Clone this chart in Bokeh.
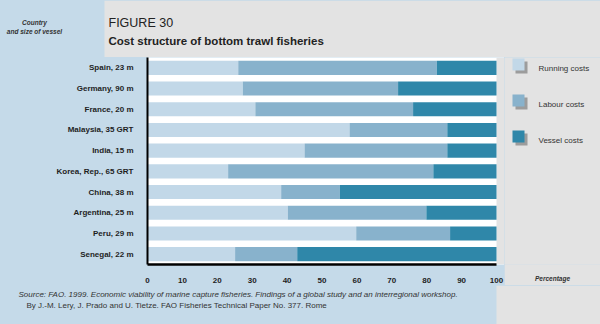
from bokeh.plotting import figure
from bokeh.layouts import column, row
from bokeh.models import FactorRange, Range1d, FixedTicker, BoxAnnotation, ColumnDataSource
from bokeh.core.properties import value
from bokeh.embed import file_html
from bokeh.resources import INLINE

countries = ["Spain, 23 m", "Germany, 90 m", "France, 20 m", "Malaysia, 35 GRT", "India, 15 m",
             "Korea, Rep., 65 GRT", "China, 38 m", "Argentina, 25 m", "Peru, 29 m", "Senegal, 22 m"]
running = [26.0, 27.3, 30.9, 57.9, 45.0, 23.1, 38.3, 40.2, 59.8, 25.1]
labour = [56.9, 44.5, 45.2, 28.0, 40.9, 58.8, 16.8, 39.7, 26.9, 17.8]
vessel = [17.1, 28.2, 23.9, 14.1, 14.1, 18.1, 44.9, 20.1, 13.3, 57.1]
series = ["Running costs", "Labour costs", "Vessel costs"]
ticks = [0, 10, 20, 30, 40, 50, 60, 70, 80, 90, 100]

BLUE_BG = "#c5dae9"
GREY_BG = "#e3e3e3"
colors = ["#c2d8e8", "#88b2cc", "#2f87a9"]
TXT = "#1e1e1e"
SOFT = "#333333"
FONT = value("Liberation Sans")

W, H = 600, 324
TOP_H = 57           # title band height
FL, FR, FB = 147, 496, 264   # chart frame left / 100% position / bottom (canvas px)
MW = 504             # width of chart panel
MH = 228             # height of chart panel
RW = W - MW
FH = H - TOP_H - MH
FOOT_Y = TOP_H + MH
BOT_BORDER = MH - (FB - TOP_H)


def panel(w, h, x0, y0, bg):
    f = figure(width=w, height=h, x_range=Range1d(x0, x0 + w), y_range=Range1d(y0 + h, y0),
               output_backend="svg", toolbar_location=None, title=None, min_border=0,
               x_axis_type=None, y_axis_type=None, background_fill_color=bg, border_fill_color=bg,
               outline_line_color=None)
    f.xgrid.visible = False
    f.ygrid.visible = False
    return f


def txt(f, x, y, s, size="8px", style="normal", color=TXT, align="left"):
    f.text(x=[x], y=[y], text=[s], text_font=FONT, text_font_size=size, text_font_style=style,
           text_color=color, text_align=align, text_baseline="middle")


# ---- title band ----
top = panel(W, TOP_H, 0, 0, BLUE_BG)
top.quad(left=[104], right=[W], top=[0], bottom=[TOP_H], fill_color=GREY_BG, line_color=None)
txt(top, 34, 22, "Country", size="6.5px", style="bold italic", color=SOFT, align="center")
txt(top, 34, 30.5, "and size of vessel", size="6.5px", style="bold italic", color=SOFT, align="center")
txt(top, 108, 22, "FIGURE 30", size="12.5px", color="#222222")
txt(top, 108, 40, "Cost structure of bottom trawl fisheries", size="11.5px", style="bold", color="#222222")

# ---- chart ----
xmax = 100 * (MW - FL) / (FR - FL)
src = ColumnDataSource(dict(country=countries, **{series[0]: running, series[1]: labour, series[2]: vessel}))
p = figure(width=MW, height=MH, y_range=FactorRange(*reversed(countries)), x_range=Range1d(0, xmax),
           output_backend="svg", toolbar_location=None, title=None,
           min_border_left=FL, min_border_right=0, min_border_top=0, min_border_bottom=BOT_BORDER,
           background_fill_color="white", border_fill_color=BLUE_BG, outline_line_color=None)
p.add_layout(BoxAnnotation(left=100, fill_color=GREY_BG, fill_alpha=1, line_color=None, level="underlay"))
p.hbar_stack(series, y="country", height=0.68, color=colors, line_color=None, source=src)
p.xgrid.visible = False
p.ygrid.visible = False

xa = p.xaxis[0]
xa.ticker = FixedTicker(ticks=ticks)
xa.bounds = (0, 100)
xa.axis_line_color = "black"
xa.axis_line_width = 2.5
xa.major_tick_line_color = None
xa.minor_tick_line_color = None
xa.major_label_text_font = "Liberation Sans"
xa.major_label_text_font_style = "bold"
xa.major_label_text_font_size = "8px"
xa.major_label_text_color = TXT
xa.major_label_standoff = 7

ya = p.yaxis[0]
ya.axis_line_color = "black"
ya.axis_line_width = 2
ya.major_tick_line_color = None
ya.minor_tick_line_color = None
ya.major_label_text_font = "Liberation Sans"
ya.major_label_text_font_style = "bold"
ya.major_label_text_font_size = "8px"
ya.major_label_text_color = TXT
ya.major_label_standoff = 8

# ---- legend column (frame aligned with chart frame: canvas y TOP_H..FB) ----
leg = figure(width=RW, height=MH, x_range=Range1d(MW, W), y_range=Range1d(FB, TOP_H),
             output_backend="svg", toolbar_location=None, title=None,
             min_border_left=0, min_border_right=0, min_border_top=0, min_border_bottom=BOT_BORDER,
             y_axis_type=None, background_fill_color=GREY_BG, border_fill_color=GREY_BG,
             outline_line_color=None)
leg.xgrid.visible = False
leg.ygrid.visible = False
la = leg.xaxis[0]
la.ticker = FixedTicker(ticks=[])
la.axis_line_color = None
la.major_tick_line_color = None
la.minor_tick_line_color = None
la.major_tick_out = 0
la.major_label_standoff = 0
la.axis_label = "Percentage"
la.axis_label_text_font = "Liberation Sans"
la.axis_label_text_font_size = "6.5px"
la.axis_label_text_font_style = "bold italic"
la.axis_label_text_color = SOFT
la.axis_label_standoff = 10

for i, (name, c) in enumerate(zip(series, colors)):
    t0 = 58 + 36 * i
    leg.quad(left=[515], right=[527], top=[t0 + 3], bottom=[t0 + 15], fill_color="#9c9c9c", line_color=None)
    leg.quad(left=[512], right=[524], top=[t0], bottom=[t0 + 12], fill_color=c, line_color=None)
    txt(leg, 538, t0 + 9.5, name, size="8px", color=SOFT)

# ---- footer ----
foot = panel(W, FH, 0, FOOT_Y, BLUE_BG)
foot.quad(left=[FR], right=[W], top=[FOOT_Y], bottom=[H], fill_color=GREY_BG, line_color=None)
txt(foot, 18, 294, "Source: FAO. 1999. Economic viability of marine capture fisheries. Findings of a global study and an interregional workshop.",
    size="8px", style="italic", color=SOFT)
txt(foot, 26, 305, "By J.-M. Lery, J. Prado and U. Tietze. FAO Fisheries Technical Paper No. 377. Rome",
    size="8px", color=SOFT)

layout = column(top, row(p, leg, spacing=0), foot, spacing=0, styles={"background-color": BLUE_BG})
open("out.html", "w").write(file_html(layout, INLINE))
